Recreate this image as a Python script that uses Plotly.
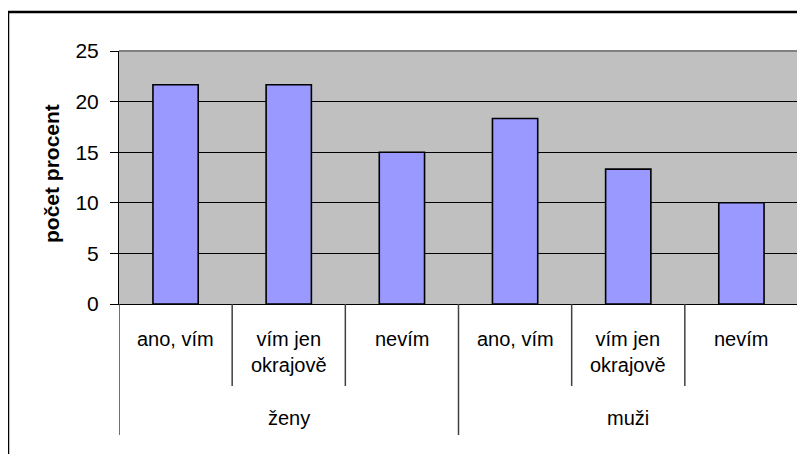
import plotly.graph_objects as go

groups = ["ženy", "ženy", "ženy", "muži", "muži", "muži"]
categories = ["ano, vím", "vím jen<br>okrajově", "nevím", "ano, vím", "vím jen<br>okrajově", "nevím"]
values = [21.67, 21.67, 15.0, 18.33, 13.33, 10.0]
y_title = "počet procent"
y_ticks = [0, 5, 10, 15, 20, 25]

# page body has an 8px margin; work in screen pixels and convert
OFF = 8
W, H = 805 - OFF, 454 - OFF
PL, PR, PT, PB = 119, 798, 51, 304          # plot area in screen px
ML, MT = PL - OFF, PT - OFF
MR = W - (PR - OFF)
MB = H - (PB - OFF)
PW, PH = PR - PL, PB - PT

def px_x(p):
    return (p - PL) / PW

def px_y(p):
    return 1 - (p - PT) / PH

FONT = "Liberation Sans, Arial, sans-serif"

xs = list(range(len(values)))

fig = go.Figure(go.Bar(
    x=xs, y=values,
    marker=dict(color="#9999FF", line=dict(color="#000000", width=1.6)),
    hoverinfo="skip",
))

shapes = []
shapes.append(dict(type="line", xref="paper", yref="paper", x0=0, x1=1, y0=1, y1=1,
                   line=dict(color="#808080", width=2)))
shapes.append(dict(type="line", xref="paper", yref="paper", x0=1, x1=1, y0=0, y1=1,
                   line=dict(color="#808080", width=2)))

group_starts = [i for i in range(len(groups)) if i == 0 or groups[i] != groups[i - 1]]
for i in range(len(values) + 1):
    is_group = (i in group_starts) or i == len(values)
    y_end = px_y(435) if is_group else px_y(386)
    shapes.append(dict(type="line", xref="x", yref="paper", x0=i - 0.5, x1=i - 0.5,
                       y0=0, y1=y_end, line=dict(color="#404040", width=1.5)))

shapes.append(dict(type="rect", xref="paper", yref="paper",
                   x0=px_x(8), x1=1.5, y0=-2, y1=px_y(12),
                   line=dict(color="#000000", width=2.5), fillcolor="rgba(0,0,0,0)"))

annotations = []
for i, c in enumerate(categories):
    annotations.append(dict(x=i, y=px_y(326), xref="x", yref="paper", text=c,
                            showarrow=False, xanchor="center", yanchor="top",
                            font=dict(family=FONT, size=20, color="#000")))
for g in dict.fromkeys(groups):
    idx = [i for i, gg in enumerate(groups) if gg == g]
    annotations.append(dict(x=sum(idx) / len(idx), y=px_y(418), xref="x", yref="paper",
                            text=g, showarrow=False, xanchor="center", yanchor="middle",
                            font=dict(family=FONT, size=20, color="#000")))
annotations.append(dict(x=px_x(51), y=px_y(174), xref="paper", yref="paper",
                        text="<b>" + y_title + "</b>", textangle=-90, showarrow=False,
                        xanchor="center", yanchor="middle",
                        font=dict(family=FONT, size=21, color="#000")))

fig.update_layout(
    width=W, height=H,
    margin=dict(l=ML, r=MR, t=MT, b=MB, pad=0),
    paper_bgcolor="#FFFFFF",
    plot_bgcolor="#C0C0C0",
    bargap=0.6,
    showlegend=False,
    shapes=shapes,
    annotations=annotations,
    xaxis=dict(range=[-0.5, len(values) - 0.5], showticklabels=False, showgrid=False,
               zeroline=False, showline=True, linecolor="#000", linewidth=1, ticks=""),
    yaxis=dict(range=[0, 25], tickvals=y_ticks, ticks="outside", ticklen=8,
               tickcolor="#000", tickwidth=1, showline=True, linecolor="#000",
               linewidth=1, showgrid=True, gridcolor="#000", gridwidth=1,
               zeroline=False, ticklabelstandoff=7,
               tickfont=dict(family=FONT, size=21, color="#000")),
)

fig.write_html("out.html")
